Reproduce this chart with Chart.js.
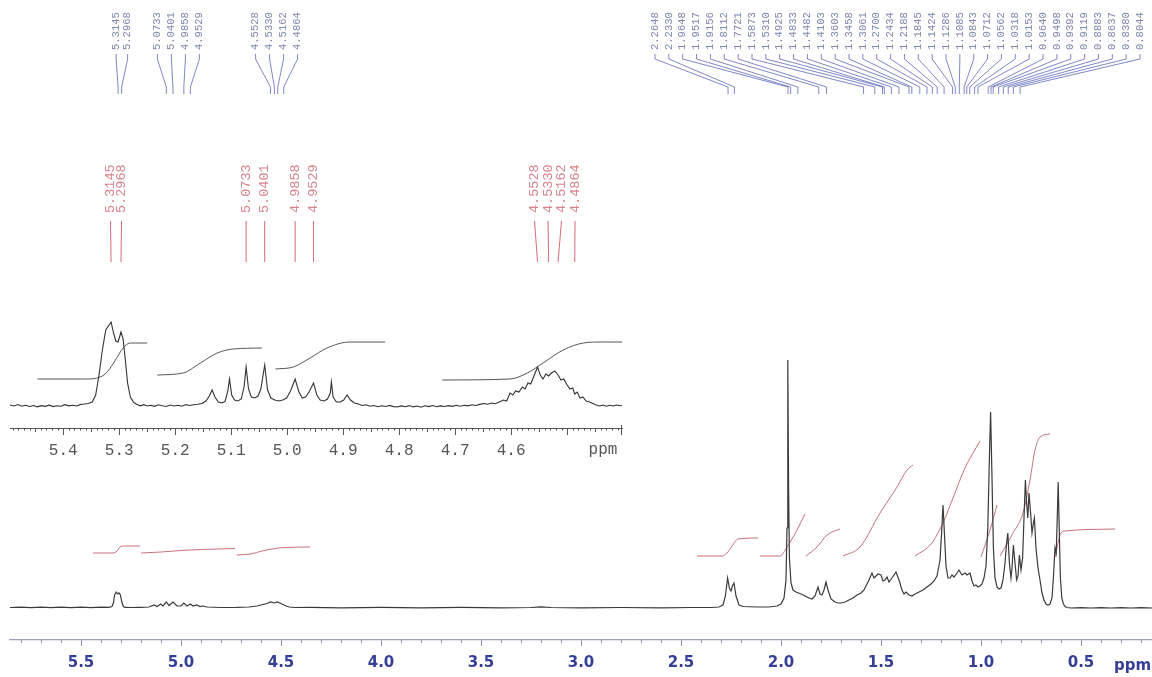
<!DOCTYPE html>
<html><head><meta charset="utf-8">
<script src="https://cdn.jsdelivr.net/npm/chart.js@4.4.1/dist/chart.umd.min.js"></script>
<style>
html,body{margin:0;padding:0;background:#fff;}
#wrap{position:relative;width:1152px;height:677px;overflow:hidden;}
#main{position:absolute;left:0;top:0;width:1152px;height:677px;}
#inset{position:absolute;left:0;top:140px;width:640px;height:340px;}
</style></head><body>
<div id="wrap">
<canvas id="main" width="1152" height="677"></canvas>
<canvas id="inset" width="640" height="340"></canvas>
</div>
<script>
// ---------- DATA ----------
// main spectrum [ppm, intensity]
const mainSpectrum = [[5.855,0.5],[5.80,0.8],[5.75,0.3],[5.70,0.8],[5.65,0.3],[5.60,0.8],[5.55,0.3],[5.50,0.8],[5.45,0.3],[5.40,0.8],[5.36,0.6],[5.345,1.5],[5.338,5],[5.332,13],[5.324,16],[5.316,14],[5.31,15],[5.303,13],[5.296,6],[5.288,1.5],[5.28,0.6],[5.25,0.5],[5.20,0.7],[5.16,1],[5.134,3],[5.12,1.5],[5.102,4],[5.09,2],[5.073,6],[5.06,2.5],[5.04,6],[5.02,2],[5.0,2],[4.986,5],[4.97,2],[4.953,4],[4.94,2],[4.921,3],[4.905,1.5],[4.893,2],[4.87,1],[4.80,0.5],[4.72,0.6],[4.66,1],[4.62,2],[4.59,3.5],[4.57,4.5],[4.553,6],[4.535,5],[4.518,6],[4.50,4.5],[4.48,2.5],[4.46,1],[4.43,0.5],[4.35,0.6],[4.2,0.2],[4.0,0.6],[3.8,0.2],[3.6,0.6],[3.4,0.2],[3.25,0.5],[3.2,1.2],[3.15,0.5],[3.0,0.1],[2.8,0.5],[2.6,0.1],[2.45,0.5],[2.35,0.5],[2.31,1],[2.29,3],[2.278,12],[2.267,30],[2.258,20],[2.25,17],[2.243,22],[2.235,25],[2.225,12],[2.21,3],[2.19,1.5],[2.12,1],[2.06,1],[2.02,2],[2.0,4],[1.985,10],[1.975,28],[1.97,80],[1.966,248],[1.962,120],[1.958,50],[1.95,25],[1.94,18],[1.925,16],[1.90,14],[1.88,12],[1.86,10],[1.845,9],[1.83,12],[1.815,21],[1.805,14],[1.795,13],[1.785,18],[1.775,26],[1.765,18],[1.75,9],[1.73,6],[1.715,5],[1.70,5],[1.68,6],[1.66,8],[1.64,10],[1.62,13],[1.60,15],[1.585,18],[1.575,22],[1.56,28],[1.545,35],[1.535,30],[1.525,32],[1.515,34],[1.50,33],[1.49,27],[1.48,28],[1.47,31],[1.46,26],[1.445,30],[1.425,36],[1.41,28],[1.395,18],[1.385,14],[1.375,16],[1.36,13],[1.345,12],[1.33,14],[1.31,16],[1.29,18],[1.27,21],[1.25,24],[1.235,27],[1.22,32],[1.205,48],[1.197,75],[1.19,103],[1.183,75],[1.175,42],[1.165,30],[1.155,30],[1.145,33],[1.135,31],[1.12,35],[1.11,38],[1.095,33],[1.08,35],[1.07,33],[1.055,35],[1.045,27],[1.035,22],[1.025,23],[1.015,21],[1.005,22],[0.995,24],[0.985,30],[0.975,42],[0.966,80],[0.958,150],[0.952,196],[0.946,140],[0.938,60],[0.93,30],[0.92,21],[0.91,19],[0.90,20],[0.89,28],[0.88,45],[0.872,65],[0.866,75],[0.858,45],[0.85,30],[0.845,40],[0.838,63],[0.83,45],[0.822,28],[0.815,32],[0.808,53],[0.80,38],[0.792,50],[0.785,90],[0.778,128],[0.772,105],[0.766,90],[0.760,115],[0.752,95],[0.745,75],[0.738,85],[0.733,90],[0.725,60],[0.715,40],[0.705,28],[0.695,15],[0.685,8],[0.675,4],[0.665,3],[0.655,4],[0.645,10],[0.638,30],[0.63,60],[0.624,55],[0.618,95],[0.614,126],[0.609,80],[0.603,30],[0.596,10],[0.588,4],[0.58,1.5],[0.57,0.5],[0.55,0],[0.5,0.4],[0.45,0],[0.4,0.4],[0.35,0],[0.3,0.4],[0.25,0],[0.2,0.4],[0.145,0]];

// inset (expanded 5.5-4.4 ppm) spectrum [ppm, intensity]
const insetSpectrum = [[5.495,0],[5.488,-1],[5.481,0.5],[5.474,-1.2],[5.467,-0.3],[5.46,-1.5],[5.453,-0.5],[5.446,-1.8],[5.439,-0.6],[5.432,-1.4],[5.425,-0.2],[5.418,-1.6],[5.411,-0.8],[5.404,-1.2],[5.397,0.3],[5.39,-0.9],[5.383,-0.2],[5.376,-1],[5.369,0.6],[5.362,1],[5.355,1.5],[5.348,3],[5.342,10],[5.336,30],[5.33,55],[5.324,75],[5.3145,83],[5.31,72],[5.306,64],[5.302,63],[5.2968,73],[5.293,66],[5.289,45],[5.285,22],[5.28,8],[5.274,2.5],[5.268,0.5],[5.262,-0.8],[5.256,0.3],[5.25,-1],[5.244,-0.2],[5.237,-1.3],[5.23,0.2],[5.223,-0.8],[5.216,-1.5],[5.209,0],[5.202,-1],[5.195,-0.2],[5.188,-1.2],[5.181,0.4],[5.174,-0.5],[5.167,0.3],[5.16,0.8],[5.152,1.5],[5.145,4],[5.139,9],[5.134,15],[5.129,8],[5.123,3],[5.117,2],[5.111,3.5],[5.106,14],[5.103,26],[5.099,10],[5.094,5],[5.088,4],[5.082,6],[5.077,18],[5.0733,38],[5.069,16],[5.064,8],[5.058,7],[5.052,9],[5.047,16],[5.0401,40],[5.035,15],[5.029,7],[5.022,5],[5.015,4],[5.008,5],[5.001,7],[4.994,14],[4.9858,26],[4.979,13],[4.973,7],[4.967,8],[4.961,13],[4.9529,22],[4.947,10],[4.941,5],[4.934,4],[4.928,6],[4.923,12],[4.921,23],[4.918,8],[4.912,3],[4.905,3],[4.899,5],[4.893,10],[4.887,5],[4.88,2],[4.873,1],[4.866,-0.5],[4.859,0.3],[4.852,-1.2],[4.845,-0.5],[4.838,-1.8],[4.831,-0.8],[4.824,-1.5],[4.817,-0.4],[4.81,-1.6],[4.803,-2],[4.796,-0.9],[4.789,-1.7],[4.782,-0.6],[4.775,-1.9],[4.768,-1],[4.761,-2.2],[4.754,-0.8],[4.747,-1.6],[4.74,-0.5],[4.733,-1.8],[4.726,-0.9],[4.719,-1.5],[4.712,-0.6],[4.705,-1.4],[4.698,-0.3],[4.691,-1.2],[4.684,-0.2],[4.677,-0.9],[4.67,0.2],[4.663,-0.5],[4.656,0.6],[4.649,1.5],[4.642,0.8],[4.635,2],[4.628,1.2],[4.621,3],[4.614,5],[4.608,4],[4.602,12],[4.597,10],[4.592,14],[4.586,13],[4.58,18],[4.575,16],[4.57,22],[4.565,21],[4.56,28],[4.5528,38],[4.548,30],[4.543,26],[4.538,31],[4.533,29],[4.528,32],[4.522,34],[4.5162,30],[4.511,25],[4.506,26],[4.5,20],[4.495,16],[4.49,17],[4.4864,11],[4.482,13],[4.477,7],[4.472,8],[4.466,4],[4.46,3],[4.454,1.5],[4.448,0],[4.442,-1],[4.436,0],[4.43,-1.2],[4.424,-0.3],[4.418,-1],[4.412,0],[4.406,-0.8],[4.402,-0.5]];

// integral curves on the main spectrum [ppm, level]
const mainIntegrals = [
  [[5.44,55],[5.34,55],[5.32,57],[5.305,61],[5.28,62],[5.205,62]],
  [[5.2,55],[5.1,56],[5.0,57.5],[4.9,58.5],[4.73,59.5]],
  [[4.72,53],[4.65,54],[4.595,57],[4.53,59.5],[4.48,60.5],[4.355,61]],
  [[2.42,52],[2.295,52],[2.27,55],[2.245,62],[2.215,69],[2.115,70]],
  [[2.105,52],[2.005,52],[1.97,61],[1.92,78],[1.88,94]],
  [[1.875,52],[1.82,61],[1.77,73],[1.705,79]],
  [[1.69,52],[1.605,61],[1.505,95],[1.42,121],[1.37,138],[1.34,143]],
  [[1.33,52],[1.25,64],[1.19,85],[1.14,110],[1.08,140],[1.005,167]],
  [[1.0,51],[0.955,78],[0.92,103]],
  [[0.905,52],[0.84,75],[0.79,95],[0.755,128],[0.73,158],[0.705,171],[0.655,174]],
  [[0.63,51],[0.6,75],[0.58,77],[0.33,79]]
];
// integral curves on the inset [ppm, level]
const insetIntegrals = [
  [[5.446,26],[5.36,26],[5.34,27],[5.325,31],[5.31,42],[5.298,53],[5.29,59],[5.28,62],[5.25,62]],
  [[5.232,30],[5.186,32],[5.155,42],[5.125,52],[5.096,56],[5.045,57]],
  [[5.021,36],[4.989,38],[4.959,47],[4.929,57],[4.8875,63],[4.825,63]],
  [[4.723,25],[4.602,26],[4.571,32],[4.543,42],[4.507,55],[4.471,62],[4.44,63],[4.402,63]]
];

// axis ticks
const mainTickValues = [5.5,5.0,4.5,4.0,3.5,3.0,2.5,2.0,1.5,1.0,0.5];
const mainTickLabels = ['5.5','5.0','4.5','4.0','3.5','3.0','2.5','2.0','1.5','1.0','0.5'];
const insetTickValues = [5.4,5.3,5.2,5.1,5.0,4.9,4.8,4.7,4.6,4.5];
const insetTickLabels = ['5.4','5.3','5.2','5.1','5.0','4.9','4.8','4.7','4.6',''];
const axisUnit = 'ppm';

// peak-pick labels (blue: full spectrum; red: expansion)
const bluePeaks1 = [5.3145,5.2968];
const bluePeaks2 = [5.0733,5.0401,4.9858,4.9529];
const bluePeaks3 = [4.5528,4.5330,4.5162,4.4864];
const bluePeaks4 = [2.2648,2.2330,1.9648,1.9517,1.9156,1.8112,1.7721,1.5873,1.5310,1.4925,1.4833,1.4482,1.4103,1.3603,1.3458,1.3061,1.2700,1.2434,1.2188,1.1845,1.1424,1.1286,1.1085,1.0843,1.0712,1.0562,1.0318,1.0153,0.9640,0.9498,0.9392,0.9119,0.8883,0.8637,0.8380,0.8044];
const redPeaks1 = [5.3145,5.2968];
const redPeaks2 = [5.0733,5.0401,4.9858,4.9529];
const redPeaks3 = [4.5528,4.5330,4.5162,4.4864];

// ---------- DRAWING ----------
const toPts = arr => arr.map(p => ({x:p[0], y:p[1]}));

function vText(ctx, text, x, yBottom, font, color){
  ctx.save();
  ctx.translate(x, yBottom);
  ctx.rotate(-Math.PI/2);
  ctx.font = font; ctx.fillStyle = color;
  ctx.textAlign = 'left'; ctx.textBaseline = 'middle';
  ctx.fillText(text, 0, 0);
  ctx.restore();
}

function textPositions(pix, g){
  const n = pix.length;
  if (g.from !== undefined) {
    return pix.map((p,i) => g.from + i*(g.to - g.from)/(n-1));
  }
  const c = pix.reduce((a,b)=>a+b,0)/n + (g.shift||0);
  return pix.map((p,i) => c + (i-(n-1)/2)*g.spacing);
}

const mainDecor = {
  id:'mainDecor',
  afterDraw(chart){
    const ctx = chart.ctx, xs = chart.scales.x, yb = chart.chartArea.bottom;
    ctx.save();
    ctx.strokeStyle = '#8d92aa'; ctx.lineWidth = 1;
    for (let k = 2; k <= 58; k++){
      if (k % 5 === 0) continue;
      const px = Math.round(xs.getPixelForValue(k/10)) + 0.5;
      ctx.beginPath(); ctx.moveTo(px, yb); ctx.lineTo(px, yb + 3); ctx.stroke();
    }
    ctx.font = 'bold 15px "DejaVu Sans", Verdana, sans-serif';
    ctx.fillStyle = '#363f98'; ctx.textAlign = 'left'; ctx.textBaseline = 'alphabetic';
    ctx.fillText(axisUnit, 1114, 670);

    const groups = [
      {vals: bluePeaks1, spacing: 11.5, shift: 2},
      {vals: bluePeaks2, spacing: 14},
      {vals: bluePeaks3, spacing: 14},
      {vals: bluePeaks4, from: 655, to: 1140}
    ];
    const font = '10.5px "Liberation Mono", "DejaVu Sans Mono", monospace';
    groups.forEach(g => {
      const pix = g.vals.map(v => xs.getPixelForValue(v));
      const tx = textPositions(pix, g);
      ctx.strokeStyle = 'rgba(95,105,185,0.8)'; ctx.lineWidth = 1;
      pix.forEach((p,i) => {
        vText(ctx, g.vals[i].toFixed(4), tx[i], 50, font, '#7f86ad');
        ctx.beginPath();
        ctx.moveTo(tx[i], 54); ctx.lineTo(tx[i], 59);
        ctx.lineTo(p, 87); ctx.lineTo(p, 94);
        ctx.stroke();
      });
    });
    ctx.restore();
  }
};

const insetDecor = {
  id:'insetDecor',
  afterDraw(chart){
    const ctx = chart.ctx, xs = chart.scales.x, yb = chart.chartArea.bottom;
    ctx.save();
    ctx.strokeStyle = '#555'; ctx.lineWidth = 1;
    for (let k = 441; k <= 549; k++){
      if (k % 10 === 0) continue;
      const len = (k % 5 === 0) ? 4 : 2.5;
      const px = Math.round(xs.getPixelForValue(k/100)) + 0.5;
      ctx.beginPath(); ctx.moveTo(px, yb); ctx.lineTo(px, yb + len); ctx.stroke();
    }
    const ex = Math.round(chart.chartArea.right) - 0.5;
    ctx.beginPath(); ctx.moveTo(ex, yb - 3); ctx.lineTo(ex, yb + 7); ctx.stroke();
    ctx.font = '16px "Liberation Mono", "Courier New", monospace';
    ctx.fillStyle = '#555'; ctx.textAlign = 'center'; ctx.textBaseline = 'middle';
    ctx.fillText(axisUnit, 603, 310);

    const groups = [
      {vals: redPeaks1, spacing: 11},
      {vals: redPeaks2, spacing: 0},
      {vals: redPeaks3, spacing: 13.5}
    ];
    const font = '13.5px "Liberation Mono", "DejaVu Sans Mono", monospace';
    groups.forEach(g => {
      const pix = g.vals.map(v => xs.getPixelForValue(v));
      const tx = g.spacing ? textPositions(pix, g) : pix;
      ctx.strokeStyle = '#d46a78'; ctx.lineWidth = 1;
      pix.forEach((p,i) => {
        vText(ctx, g.vals[i].toFixed(4), tx[i], 73, font, '#d9828c');
        ctx.beginPath(); ctx.moveTo(tx[i], 81); ctx.lineTo(p, 122); ctx.stroke();
      });
    });
    ctx.restore();
  }
};

const mainChart = new Chart(document.getElementById('main'), {
  type: 'line',
  data: { datasets: [
    {data: toPts(mainSpectrum), borderColor:'#3a3a3a', borderWidth:1.2, pointRadius:0, tension:0},
    ...mainIntegrals.map(a => ({data: toPts(a), borderColor:'#c9707c', borderWidth:1, pointRadius:0, cubicInterpolationMode:'monotone'}))
  ]},
  options: {
    responsive:false, animation:false, devicePixelRatio:1,
    layout:{padding:{left:10,right:0,top:0,bottom:0}},
    plugins:{legend:{display:false}, tooltip:{enabled:false}},
    scales:{
      x:{type:'linear', reverse:true, min:0.145, max:5.855,
        afterBuildTicks: s => { s.ticks = mainTickValues.map(v => ({value:v})); },
        afterFit: s => { s.height = 37; },
        grid:{drawOnChartArea:false, drawTicks:true, tickLength:6, color:'#8d92aa'},
        border:{display:true, color:'#9aa0b8', width:1.2},
        ticks:{callback:(v,i) => mainTickLabels[i], autoSkip:false, maxRotation:0, padding:8,
          color:'#363f98', font:{family:'"DejaVu Sans", Verdana, sans-serif', size:15, weight:'bold'}}
      },
      y:{display:false, min:-32, max:608}
    }
  },
  plugins:[mainDecor]
});

const insetChart = new Chart(document.getElementById('inset'), {
  type: 'line',
  data: { datasets: [
    {data: toPts(insetSpectrum), borderColor:'#333', borderWidth:1.1, pointRadius:0, tension:0},
    ...insetIntegrals.map(a => ({data: toPts(a), borderColor:'#555', borderWidth:1, pointRadius:0, cubicInterpolationMode:'monotone'}))
  ]},
  options: {
    responsive:false, animation:false, devicePixelRatio:1,
    layout:{padding:{left:10,right:18,top:160,bottom:0}},
    plugins:{legend:{display:false}, tooltip:{enabled:false}},
    scales:{
      x:{type:'linear', reverse:true, min:4.402, max:5.495,
        afterBuildTicks: s => { s.ticks = insetTickValues.map(v => ({value:v})); },
        afterFit: s => { s.height = 52; },
        grid:{drawOnChartArea:false, drawTicks:true, tickLength:7, color:'#555'},
        border:{display:true, color:'#555', width:1},
        ticks:{callback:(v,i) => insetTickLabels[i], autoSkip:false, maxRotation:0, padding:6,
          color:'#555', font:{family:'"Liberation Mono", "Courier New", monospace', size:16}}
      },
      y:{display:false, min:-23, max:105}
    }
  },
  plugins:[insetDecor]
});
</script>
</body></html>
